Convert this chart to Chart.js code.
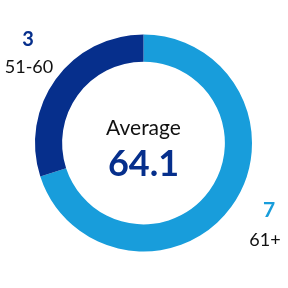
<!DOCTYPE html>
<html>
<head>
    <meta charset="utf-8">
    <title>Average doughnut</title>
    <script src="https://cdn.jsdelivr.net/npm/chart.js@4/dist/chart.umd.min.js"></script>
    <style>
        html, body { margin: 0; padding: 0; background: #fff; }
        #wrap { width: 288px; height: 288px; }
    </style>
</head>
<body>
    <div id="wrap"><canvas id="c"></canvas></div>
    <script>
        // groups, drawn clockwise from 12 o'clock
        const groups = ['61+', '51-60']
        const counts = [7, 3]
        const colors = ['#189ddb', '#062f8c']
        const centerTitle = 'Average'
        const centerValue = '64.1'

        const font = 'Lato, "Open Sans", sans-serif'

        const textPlugin = {
            id: 'texts',
            afterDraw(chart) {
                const ctx = chart.ctx
                const arc = chart.getDatasetMeta(0).data[0]
                const cx = arc.x, cy = arc.y
                ctx.save()
                ctx.textAlign = 'center'
                ctx.textBaseline = 'alphabetic'
                ctx.fillStyle = '#111'
                ctx.font = '21px ' + font
                ctx.fillText(centerTitle, cx, cy - 8)
                ctx.fillStyle = colors[1]
                ctx.font = 'bold 36px ' + font
                ctx.fillText(centerValue, cx, cy + 33)

                // outside labels
                ctx.fillStyle = colors[1]
                ctx.font = 'bold 20px ' + font
                ctx.fillText(String(counts[1]), 28, 46)
                ctx.fillStyle = '#111'
                ctx.font = '18px ' + font
                ctx.fillText(groups[1], 29, 73)

                ctx.fillStyle = colors[0]
                ctx.font = 'bold 21px ' + font
                ctx.fillText(String(counts[0]), 269, 217)
                ctx.fillStyle = '#111'
                ctx.font = '18px ' + font
                ctx.fillText(groups[0], 265, 246)
                ctx.restore()
            }
        }

        new Chart(document.getElementById('c'), {
            type: 'doughnut',
            data: {
                labels: groups,
                datasets: [{
                    data: counts,
                    backgroundColor: colors,
                    borderWidth: 0
                }]
            },
            options: {
                responsive: true,
                maintainAspectRatio: false,
                animation: false,
                cutout: '75%',
                layout: { padding: { top: 34, bottom: 36, left: 35, right: 36 } },
                plugins: {
                    legend: { display: false },
                    tooltip: { enabled: false }
                }
            },
            plugins: [textPlugin]
        })
    </script>
</body>
</html>
